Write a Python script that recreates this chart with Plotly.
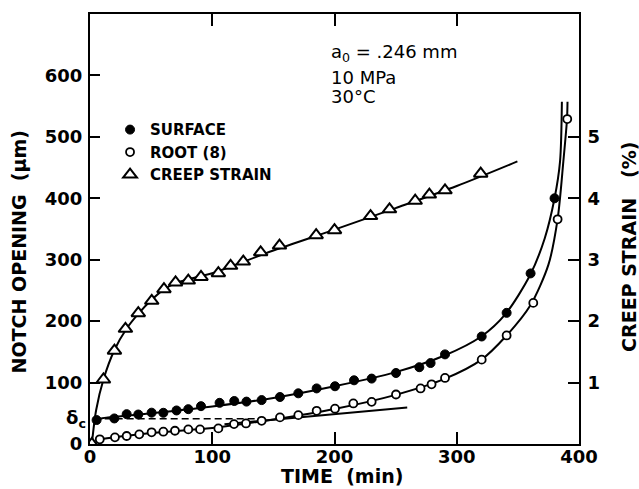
import plotly.graph_objects as go

# ---- data ----
creep_t = [1.5, 11, 20, 29, 39.5, 50.5, 60.5, 70, 80.4, 90.8, 105, 115, 125.4, 139.6, 155, 185, 200, 229.5, 245, 266, 277.6, 290.4, 319.6]
creep_pct = [0, 1.05, 1.52, 1.875, 2.13, 2.33, 2.52, 2.63, 2.66, 2.72, 2.78, 2.90, 2.97, 3.12, 3.23, 3.40, 3.48, 3.71, 3.82, 3.96, 4.06, 4.13, 4.40]

surf_t = [5.4, 19.9, 30, 39.5, 50.4, 60, 70.8, 80.4, 90.8, 106, 118, 128, 140.4, 155.4, 170.4, 185.4, 200.4, 216, 230.4, 250.3, 269.4, 278.6, 290.4, 320.4, 340.8, 360.4, 380]
surf_um = [39, 41.6, 48.6, 48, 51, 50.8, 54.6, 56.7, 61.6, 67, 70, 69, 71.5, 76.5, 82.5, 90.5, 94, 103.7, 106.5, 115.6, 125, 131.8, 145.9, 175, 213.5, 277.7, 400]

root_t = [8, 20.4, 30, 40.3, 50.4, 60, 69.5, 80.4, 90, 105, 117.8, 127.6, 140.4, 155.4, 170.4, 185.4, 200.4, 215.4, 230.4, 250.3, 270.4, 279.4, 290.4, 320.4, 340.8, 362.6, 382.5, 390.4]
root_um = [7.6, 10.8, 13, 15.7, 19, 20, 21.6, 23.8, 23.8, 25.4, 32.4, 33.5, 37.8, 43.3, 47, 54, 57.5, 66, 68.6, 80.6, 90.4, 97.2, 107.5, 137.3, 176.7, 229.7, 365.8, 529]

# fitted curves
surf_fit_t = [3, 10, 30, 60, 100, 150, 200, 250, 290, 320, 340, 360, 372, 380, 384.5, 386]
surf_fit_um = [37, 42, 46, 52, 61, 75, 94, 117, 144, 175, 212, 275, 335, 400, 460, 557]
root_fit_t = [5, 20, 50, 100, 150, 200, 250, 290, 320, 340, 360, 375, 382.5, 387.2, 390.2, 390.6]
root_fit_um = [7, 11, 18, 26, 40, 57, 80, 106, 137, 175, 225, 292, 366, 460, 529, 557]
creep_fit_t = [1.5, 5, 11, 20, 30, 40, 50, 60, 70, 80, 90, 100, 150, 200, 250, 300, 349.6]
creep_fit_pct = [0, 0.55, 1.05, 1.53, 1.88, 2.13, 2.34, 2.51, 2.62, 2.68, 2.73, 2.78, 3.15, 3.49, 3.84, 4.20, 4.60]
tangent_t = [110, 259.5]
tangent_um = [32.1, 59.6]
delta_c_t = [3, 140]
delta_c_um = [41, 41]

x_ticks = [0, 100, 200, 300, 400]
y_ticks = [0, 100, 200, 300, 400, 500, 600]
y2_ticks = [1, 2, 3, 4, 5]

FONT = "DejaVu Sans"
LW = 2

fig = go.Figure()

# curves
fig.add_trace(go.Scatter(x=creep_fit_t, y=creep_fit_pct, yaxis="y2", mode="lines",
                         line=dict(color="black", width=LW, shape="spline", smoothing=0.8),
                         showlegend=False, hoverinfo="skip"))
fig.add_trace(go.Scatter(x=surf_fit_t, y=surf_fit_um, mode="lines",
                         line=dict(color="black", width=LW, shape="spline", smoothing=0.8),
                         showlegend=False, hoverinfo="skip"))
fig.add_trace(go.Scatter(x=root_fit_t, y=root_fit_um, mode="lines",
                         line=dict(color="black", width=LW, shape="spline", smoothing=0.8),
                         showlegend=False, hoverinfo="skip"))
fig.add_trace(go.Scatter(x=tangent_t, y=tangent_um, mode="lines",
                         line=dict(color="black", width=LW),
                         showlegend=False, hoverinfo="skip"))
fig.add_trace(go.Scatter(x=delta_c_t, y=delta_c_um, mode="lines",
                         line=dict(color="black", width=1.5, dash="7px,4px"),
                         showlegend=False, hoverinfo="skip"))

# data points
fig.add_trace(go.Scatter(x=surf_t, y=surf_um, mode="markers", name="SURFACE",
                         marker=dict(symbol="circle", size=9, color="black",
                                     line=dict(color="black", width=1))))
fig.add_trace(go.Scatter(x=root_t, y=root_um, mode="markers", name="ROOT (8)",
                         marker=dict(symbol="circle", size=8, color="white",
                                     line=dict(color="black", width=1.8))))
fig.add_trace(go.Scatter(x=creep_t, y=creep_pct, yaxis="y2", mode="markers", name="CREEP STRAIN",
                         marker=dict(symbol="triangle-up", size=12, color="white",
                                     line=dict(color="black", width=2))))

tickfont = dict(family=FONT, size=18, color="black", weight="bold")

fig.update_layout(
    width=639, height=489,
    margin=dict(l=90, r=60, t=12, b=45),
    paper_bgcolor="white", plot_bgcolor="white",
    font=dict(family=FONT, color="black"),
    xaxis=dict(range=[0, 400], tickvals=x_ticks, ticks="inside", ticklen=12, tickwidth=2,
               tickcolor="black", showline=True, linecolor="black", linewidth=2,
               mirror="ticks", showgrid=False, zeroline=False, tickfont=tickfont,
               ticklabelstandoff=-5),
    yaxis=dict(range=[0, 700], tickvals=y_ticks, ticks="inside", ticklen=10, tickwidth=2,
               tickcolor="black", showline=True, linecolor="black", linewidth=2,
               mirror=True, showgrid=False, zeroline=False, tickfont=tickfont,
               ticklabelstandoff=2),
    yaxis2=dict(range=[0, 7], tickvals=y2_ticks, overlaying="y", side="right",
                ticks="inside", ticklen=11, tickwidth=2, tickcolor="black",
                showline=True, linecolor="black", linewidth=2,
                showgrid=False, zeroline=False, tickfont=tickfont, ticklabelstandoff=3),
    legend=dict(x=0.041, y=0.769, xanchor="left", yanchor="top",
                font=dict(family=FONT, size=15, color="black", weight="bold"),
                bgcolor="rgba(0,0,0,0)", tracegroupgap=0, itemwidth=30),
    showlegend=True,
)

title_font = dict(family=FONT, size=19, color="black", weight="bold")
fig.add_annotation(text="NOTCH OPENING  (µm)", xref="paper", yref="paper",
                   x=(18.5 - 90) / 489, y=(444 - 251) / 432, textangle=-90,
                   showarrow=False, font=title_font, xanchor="center", yanchor="middle")
fig.add_annotation(text="CREEP STRAIN   (%)", xref="paper", yref="paper",
                   x=(629.5 - 90) / 489, y=(444 - 246.5) / 432, textangle=-90,
                   showarrow=False, font=title_font, xanchor="center", yanchor="middle")
fig.add_annotation(text="TIME  (min)", xref="paper", yref="paper",
                   x=(342 - 90) / 489, y=(444 - 476) / 432,
                   showarrow=False, font=title_font,
                   xanchor="center", yanchor="middle")

note_font = dict(family=FONT, size=18, color="black")
fig.add_annotation(text="a<sub>0</sub> = .246 mm", xref="x", yref="y", x=195.5, y=(444 - 51) / 0.617,
                   showarrow=False, font=note_font, xanchor="left", yanchor="middle")
fig.add_annotation(text="10 MPa", xref="x", yref="y", x=195.5, y=(444 - 76) / 0.617,
                   showarrow=False, font=note_font, xanchor="left", yanchor="middle")
fig.add_annotation(text="30°C", xref="x", yref="y", x=195.5, y=(444 - 95) / 0.617,
                   showarrow=False, font=note_font, xanchor="left", yanchor="middle")

fig.add_annotation(text="δ<sub>c</sub>", xref="x", yref="y", x=0, y=delta_c_um[0],
                   xshift=-2, showarrow=False, font=dict(family=FONT, size=18, color="black", weight="bold"),
                   xanchor="right", yanchor="middle")

fig.write_html("out.html")
